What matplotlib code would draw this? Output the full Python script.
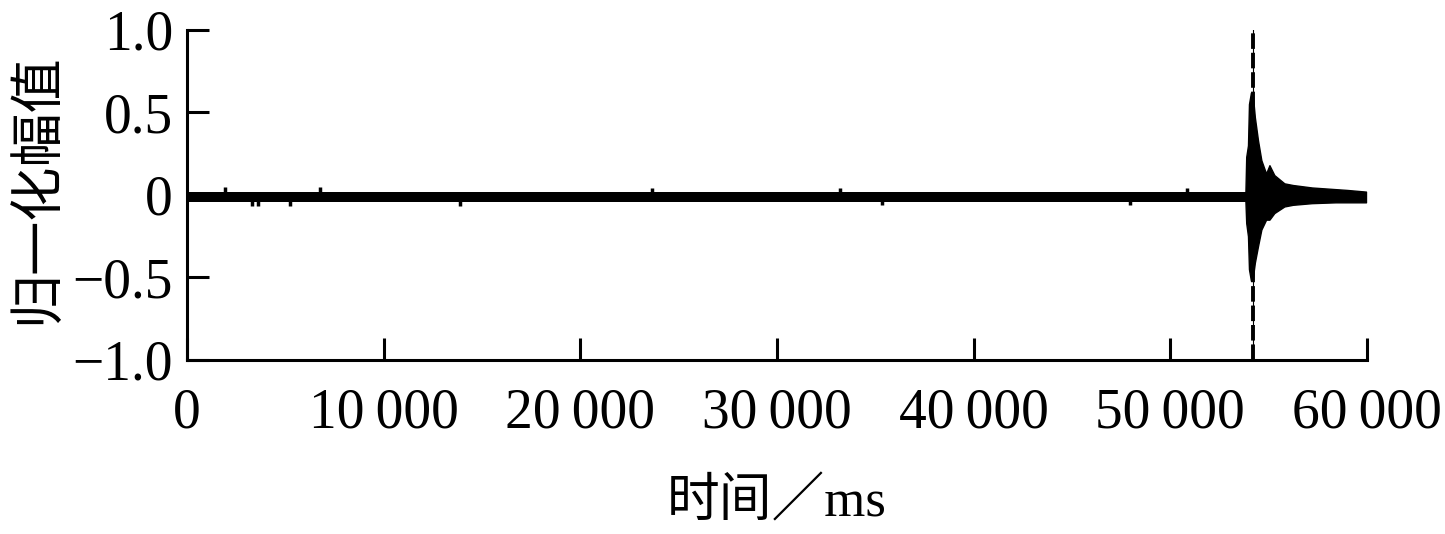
import numpy as np
import matplotlib
matplotlib.use("Agg")
import matplotlib.pyplot as plt

plt.rcParams['font.family'] = ['Liberation Serif', 'Noto Sans CJK SC']
plt.rcParams['axes.unicode_minus'] = True

# x ticks / y ticks
x_ticks = [0, 10000, 20000, 30000, 40000, 50000, 60000]
x_labels = ['0', '10\u2009000', '20\u2009000', '30\u2009000', '40\u2009000', '50\u2009000', '60\u2009000']
y_ticks = [-1.0, -0.5, 0.0, 0.5, 1.0]
y_labels = ['\u22121.0', '\u22120.5', '0', '0.5', '1.0']

# quiet background band of the signal (ms, normalized amplitude)
base_t = [0, 59950]
base_hi = [0.02, 0.02]
base_lo = [-0.045, -0.045]

# small isolated spikes on the background
spike_t = [1930, 3300, 3610, 5240, 6760, 13880, 23640, 33200, 35330, 47940, 50840]
spike_v = [0.05, -0.07, -0.07, -0.07, 0.05, -0.07, 0.04, 0.04, -0.06, -0.06, 0.04]

# envelope of the burst
burst_t = [53820, 53860, 53950, 54000, 54100, 54200, 54300, 54460, 54630, 54870,
           55040, 55290, 55800, 56230, 57200, 58400, 59000, 59950]
burst_hi = [0.02, 0.23, 0.30, 0.55, 0.62, 0.60, 0.47, 0.33, 0.21, 0.13,
            0.18, 0.12, 0.07, 0.06, 0.045, 0.035, 0.03, 0.02]
burst_lo = [-0.04, -0.17, -0.25, -0.45, -0.52, -0.50, -0.41, -0.31, -0.21, -0.15,
            -0.15, -0.11, -0.07, -0.06, -0.05, -0.045, -0.045, -0.045]

# arrival time marker
arrival_t = 54200

fig = plt.figure(figsize=(14.45, 5.34), dpi=100)
ax = fig.add_axes([0.1294, 0.326, 0.8166, 0.618])

ax.fill_between(base_t, base_lo, base_hi, color='black', linewidth=0)
ax.vlines(spike_t, -0.012, spike_v, color='black', linewidth=2.5)
ax.fill_between(burst_t, burst_lo, burst_hi, color='black', linewidth=1)
ax.plot([arrival_t, arrival_t], [-1, 1], color='black', linewidth=0.8)
ax.plot([arrival_t, arrival_t], [-1, 1], color='black', linewidth=2.8,
        linestyle=(0, (4, 1)))

ax.set_xlim(0, 60000)
ax.set_ylim(-1, 1)
ax.set_xticks(x_ticks)
ax.set_xticklabels(x_labels)
ax.set_yticks(y_ticks)
ax.set_yticklabels(y_labels)

for s in ['top', 'right']:
    ax.spines[s].set_visible(False)
for s in ['left', 'bottom']:
    ax.spines[s].set_linewidth(2.2)

ax.tick_params(direction='in', length=16, width=2.2, labelsize=40)
ax.tick_params(axis='y', pad=10)
ax.tick_params(axis='x', pad=20)

ax.set_xlabel('时间\uff0fms', fontsize=38, labelpad=28)
ax.set_ylabel('归一化幅值', fontsize=39)
ax.yaxis.set_label_coords(-0.104, 0.52)

fig.savefig('out.png', dpi=100)
